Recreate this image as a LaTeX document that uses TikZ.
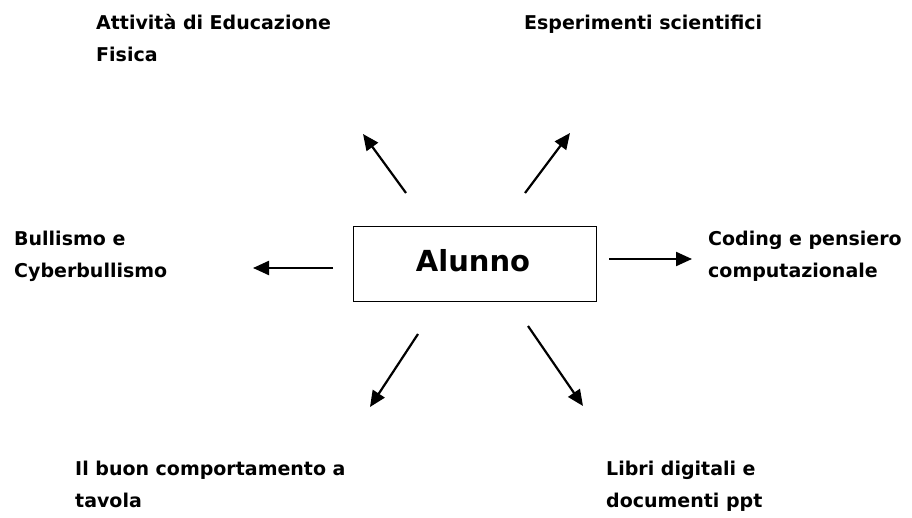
\documentclass[tikz,border=0pt]{standalone}
\usepackage{fontspec}
\setmainfont{DejaVu Sans}
\usetikzlibrary{arrows.meta}
\newcommand{\twolines}[2]{\begin{tabular}[t]{@{}l@{}}#1\\#2\end{tabular}}
\begin{document}
\begin{tikzpicture}[x=1pt,y=-1pt,
  lbl/.style={anchor=base west,inner sep=0pt,font=\fontsize{19}{32}\selectfont\bfseries},
  arr/.style={line width=2.2pt,-{Triangle[length=16pt,width=14pt]}}]
\useasboundingbox (0,0) rectangle (912,518);
\node[draw,line width=1pt,minimum width=243pt,minimum height=75pt,inner sep=0pt] (box) at (474.5,264.5) {};
\node[anchor=base,inner sep=0pt,font=\fontsize{29}{34}\selectfont\bfseries] (alunno) at (473,272) {Alunno};
\node[lbl] (edu) at (96,30) {\twolines{Attività di Educazione}{Fisica}};
\node[lbl] (esp) at (524,30) {Esperimenti scientifici};
\node[lbl] (bul) at (14,246) {\twolines{Bullismo e}{Cyberbullismo}};
\node[lbl] (cod) at (708,246) {\twolines{Coding e pensiero}{computazionale}};
\node[lbl] (buon) at (75,475) {\twolines{Il buon comportamento a}{tavola}};
\node[lbl] (lib) at (606,475) {\twolines{Libri digitali e}{documenti ppt}};
\coordinate (a1s) at (406,193); \coordinate (a1e) at (363,134);
\coordinate (a2s) at (525,193); \coordinate (a2e) at (570,133);
\coordinate (a3s) at (609,259); \coordinate (a3e) at (692,259);
\coordinate (a4s) at (333,268); \coordinate (a4e) at (253,268);
\coordinate (a5s) at (418,334); \coordinate (a5e) at (370,407);
\coordinate (a6s) at (528,326); \coordinate (a6e) at (583,406);
\draw[arr] (a1s) -- (a1e);
\draw[arr] (a2s) -- (a2e);
\draw[arr] (a3s) -- (a3e);
\draw[arr] (a4s) -- (a4e);
\draw[arr] (a5s) -- (a5e);
\draw[arr] (a6s) -- (a6e);
\end{tikzpicture}
\end{document}
